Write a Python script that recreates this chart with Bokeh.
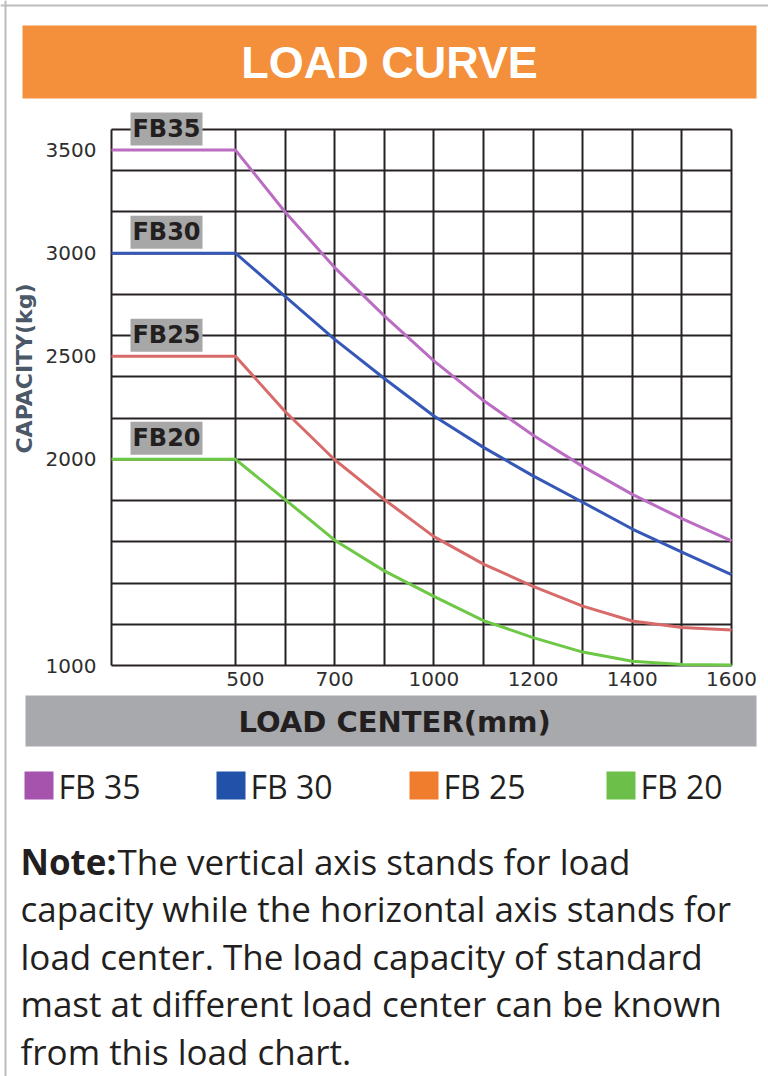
from bokeh.plotting import figure
from bokeh.models import Range1d, FixedTicker, Span, BoxAnnotation, Label, Grid
from bokeh.embed import file_html
from bokeh.resources import INLINE

# ---------------- data ----------------
# x positions follow the chart's grid (one grid step = 100 on the plotted scale)
load_center_mm = [250, 500, 600, 700, 800, 900, 1000, 1100, 1200, 1300, 1400, 1500]
fb35 = [3500, 3500, 3200, 2930, 2696, 2478, 2285, 2117, 1966, 1830, 1712, 1605]
fb30 = [3000, 3000, 2790, 2582, 2392, 2210, 2058, 1920, 1792, 1662, 1550, 1441]
fb25 = [2500, 2500, 2232, 1998, 1805, 1625, 1492, 1384, 1288, 1216, 1184, 1172]
fb20 = [2000, 2000, 1805, 1608, 1459, 1335, 1218, 1135, 1065, 1021, 1005, 1003]
series = [fb35, fb30, fb25, fb20]
series_labels = ["FB35", "FB30", "FB25", "FB20"]
legend_labels = ["FB 35", "FB 30", "FB 25", "FB 20"]
line_colors = ["#bb6cc3", "#3557b7", "#d86a6a", "#6dc846"]
legend_colors = ["#a653ae", "#2151a8", "#f07d2e", "#6cbf48"]

y_tick_values = [1000, 2000, 2500, 3000, 3500]
x_tick_positions = [520, 700, 900, 1100, 1300, 1500]
x_tick_labels = ["500", "700", "1000", "1200", "1400", "1600"]
grid_x = [250, 500, 600, 700, 800, 900, 1000, 1100, 1200, 1300, 1400, 1500]
grid_y = [1000, 1200, 1400, 1600, 1800, 2000, 2200, 2400, 2600, 2800, 3000, 3200, 3400, 3600]

note_lines = [
    "capacity while the horizontal axis stands for",
    "load center. The load capacity of standard",
    "mast at different load center can be known",
    "from this load chart.",
]

# ---------------- layout helpers (page px -> data) ----------------
X0, X1, Y0, Y1 = 250, 1500, 1000, 3600
GL, GR, GT, GB = 111, 731, 129, 665   # chart grid box in page pixels
W, H = 768, 1076


def dx(px):
    return X0 + (px - GL) * (X1 - X0) / (GR - GL)


def dy(py):
    return Y0 + (GB - py) * (Y1 - Y0) / (GB - GT)


p = figure(width=W, height=H, output_backend="svg", toolbar_location=None,
           x_range=Range1d(dx(0), dx(W)), y_range=Range1d(dy(H), dy(0)),
           min_border=0)
p.outline_line_color = None
p.background_fill_color = "white"
p.border_fill_color = "white"

GRID_COLOR = "#262223"
has_cross = "cross_bounds" in Grid.properties()
p.xgrid.ticker = FixedTicker(ticks=grid_x)
p.ygrid.ticker = FixedTicker(ticks=grid_y)
for g in (p.xgrid, p.ygrid):
    g.grid_line_color = GRID_COLOR if has_cross else None
    g.grid_line_width = 2
    g.grid_line_alpha = 1
if has_cross:
    p.xgrid.cross_bounds = (Y0, Y1)
    p.ygrid.cross_bounds = (X0, X1)
else:
    p.segment(x0=grid_x, y0=[Y0] * len(grid_x), x1=grid_x, y1=[Y1] * len(grid_x),
              line_color=GRID_COLOR, line_width=2)
    p.segment(x0=[X0] * len(grid_y), y0=grid_y, x1=[X1] * len(grid_y), y1=grid_y,
              line_color=GRID_COLOR, line_width=2)

# axes drawn at the chart's edges
p.yaxis.fixed_location = X0
p.xaxis.fixed_location = Y0
p.yaxis.ticker = FixedTicker(ticks=y_tick_values)
p.xaxis.ticker = FixedTicker(ticks=x_tick_positions)
p.xaxis.major_label_overrides = {t: l for t, l in zip(x_tick_positions, x_tick_labels)}
for ax in (p.xaxis, p.yaxis):
    ax.axis_line_color = None
    ax.major_tick_line_color = None
    ax.minor_tick_line_color = None
    ax.major_tick_in = 0
    ax.major_tick_out = 0
    ax.major_label_text_font = "DejaVu Sans"
    ax.major_label_text_font_size = "20px"
    ax.major_label_text_color = "#2e2e2e"
p.yaxis.major_label_standoff = 15
p.xaxis.major_label_standoff = 6

# curves
for vals, col in zip(series, line_colors):
    p.line(load_center_mm, vals, line_color=col, line_width=3)

# series tags (grey boxes)
for vals, lab in zip(series, series_labels):
    top_val = vals[0]
    p.add_layout(BoxAnnotation(left=dx(130), right=dx(202),
                               bottom=top_val + 22, top=top_val + 182,
                               fill_color="#a7a7a7", fill_alpha=1, line_color=None))
    p.add_layout(Label(x=dx(166), y=top_val + 102, text=lab, text_align="center",
                       text_baseline="middle", text_font="DejaVu Sans",
                       text_font_style="bold", text_font_size="24px",
                       text_color="#231f20"))

# y axis title
p.add_layout(Label(x=dx(24), y=dy(368), text="CAPACITY(kg)", angle=90, angle_units="deg",
                   text_align="center", text_baseline="middle", text_font="DejaVu Sans",
                   text_font_style="bold", text_font_size="22px", text_color="#4a5868"))

# title band
p.add_layout(BoxAnnotation(left=dx(22), right=dx(756), top=dy(25), bottom=dy(98),
                           fill_color="#f4903c", fill_alpha=1, line_color=None))
p.add_layout(Label(x=dx(389), y=dy(62), text="LOAD CURVE", text_align="center",
                   text_baseline="middle", text_font="Liberation Sans", text_font_style="bold",
                   text_font_size="45px", text_color="white"))

# x axis title band
p.add_layout(BoxAnnotation(left=dx(25), right=dx(756), top=dy(695), bottom=dy(746),
                           fill_color="#a7a9ac", fill_alpha=1, line_color=None))
p.add_layout(Label(x=dx(238), y=dy(721), text="LOAD CENTER(mm)", text_align="left",
                   text_baseline="middle", text_font="DejaVu Sans", text_font_style="bold",
                   text_font_size="29px", text_color="#231f20"))

# legend
sq_x = [24, 216, 409, 606]
for sx, lab, col in zip(sq_x, legend_labels, legend_colors):
    p.add_layout(BoxAnnotation(left=dx(sx), right=dx(sx + 29), top=dy(771), bottom=dy(799),
                               fill_color=col, fill_alpha=1, line_color=None))
    p.add_layout(Label(x=dx(sx + 34), y=dy(786), text=lab, text_align="left",
                       text_baseline="middle", text_font="Open Sans",
                       text_font_size="32px", text_color="#231f20"))

# note
p.add_layout(Label(x=dx(20), y=dy(861), text="Note:", text_align="left", text_baseline="middle",
                   text_font="Open Sans", text_font_style="bold", text_font_size="35px",
                   text_color="#231f20"))
p.add_layout(Label(x=dx(117), y=dy(861), text="The vertical axis stands for load",
                   text_align="left", text_baseline="middle", text_font="Open Sans",
                   text_font_size="35px", text_color="#231f20"))
for i, line in enumerate(note_lines):
    p.add_layout(Label(x=dx(20), y=dy(908 + 47.5 * i), text=line, text_align="left",
                       text_baseline="middle", text_font="Open Sans",
                       text_font_size="35px", text_color="#231f20"))

# card border (left and top edges)
p.add_layout(Span(location=dx(5), dimension="height", line_color="#bcbcbc", line_width=2))
p.add_layout(Span(location=dy(5), dimension="width", line_color="#bcbcbc", line_width=2))

open("out.html", "w").write(file_html(p, INLINE))
